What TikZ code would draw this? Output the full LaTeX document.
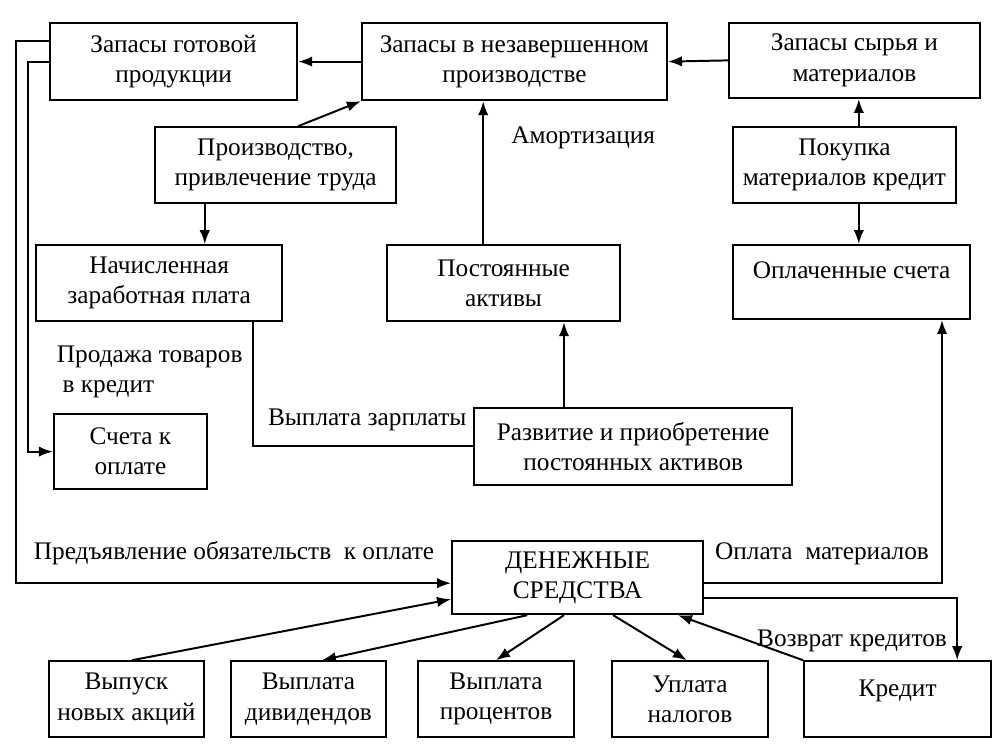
\documentclass[tikz,border=0pt]{standalone}
\usepackage{fontspec}
\setmainfont{Liberation Serif}
\usetikzlibrary{arrows.meta,positioning}

\begin{document}
\begin{tikzpicture}[
  box/.style={draw, line width=1.4pt, align=center, inner sep=2pt},
  arr/.style={line width=1.4pt, -{Latex[length=3.5mm,width=2.6mm]}},
  lnk/.style={line width=1.4pt},
  every node/.style={font=\fontsize{18}{21.5}\selectfont}]
\useasboundingbox (0,0) rectangle (25.075,-18.825);

% stocks
\node[box, minimum width=6.18cm, minimum height=1.93cm] (gp) at (4.34,-1.54) {Запасы готовой\\продукции};
\node[box, minimum width=7.63cm, minimum height=1.93cm] (wip) at (12.86,-1.54) {Запасы в незавершенном\\производстве};
\node[box, minimum width=6.28cm, minimum height=1.88cm] (raw) at (21.36,-1.51) {Запасы сырья и\\материалов};
\node[box, minimum width=6.03cm, minimum height=1.9cm] (prod) at (6.89,-4.13) {Производство,\\привлечение труда};
\node[box, minimum width=5.58cm, minimum height=1.9cm] (buy) at (21.11,-4.13) {Покупка\\материалов кредит};
\node[box, minimum width=6.15cm, minimum height=1.9cm] (wage) at (3.98,-7.08) {Начисленная\\заработная плата};
\node[box, minimum width=5.83cm, minimum height=1.9cm] (fixed) at (12.59,-7.08) {Постоянные\\активы};
\node[box, minimum width=5.93cm, minimum height=1.85cm, text depth=0.6cm] (paid) at (21.29,-7.05) {Оплаченные счета};
\node[box, minimum width=3.83cm, minimum height=1.88cm] (recv) at (3.26,-11.29) {Счета к\\оплате};
\node[box, minimum width=7.95cm, minimum height=1.93cm] (dev) at (15.83,-11.16) {Развитие и приобретение\\постоянных активов};
\node[box, minimum width=6.28cm, minimum height=1.83cm] (cash) at (14.44,-14.44) {ДЕНЕЖНЫЕ\\СРЕДСТВА};

% bottom row
\node[box, minimum width=3.88cm, minimum height=1.9cm] (shares) at (3.16,-17.48) {Выпуск\\новых акций};
\node[box, minimum width=3.88cm, minimum height=1.9cm] (div) at (7.71,-17.48) {Выплата\\дивидендов};
\node[box, minimum width=3.88cm, minimum height=1.9cm] (int) at (12.4,-17.48) {Выплата\\процентов};
\node[box, minimum width=3.88cm, minimum height=1.9cm] (tax) at (17.25,-17.48) {Уплата\\налогов};
\node[box, minimum width=4.68cm, minimum height=1.9cm, text depth=0.55cm] (credit) at (22.44,-17.48) {Кредит};

% labels
\node (amort) at (14.58,-3.45) {Амортизация};
\node[align=left, anchor=west] (sale) at (1.3,-9.3) {Продажа товаров\\\hspace*{4pt}в кредит};
\node (wagepay) at (9.18,-10.5) {Выплата зарплаты};
\node (claim) at (5.85,-13.83) {Предъявление обязательств~~к оплате};
\node (matpay) at (20.55,-13.85) {Оплата~~материалов};
\node (repay) at (21.3,-16.03) {Возврат кредитов};

% flows
\draw[arr] (wip.west) -- (gp.east);
\draw[arr] (raw.west) -- (wip.east);
\draw[arr] ([xshift=0.56cm]prod.north) -- (wip.south west);
\draw[arr] ([xshift=-1.77cm]prod.south) -- ([xshift=-1.77cm]prod.south |- wage.north);
\draw[arr] ([xshift=-0.51cm]fixed.north) -- ([xshift=-0.51cm]fixed.north |- wip.south);
\draw[arr] ([xshift=0.36cm]buy.north) -- ([xshift=0.36cm]buy.north |- raw.south);
\draw[arr] ([xshift=0.36cm]buy.south) -- ([xshift=0.36cm]buy.south |- paid.north);
\draw[arr] ([xshift=-1.73cm]dev.north) -- ([xshift=-1.73cm]dev.north |- fixed.south);
\draw[lnk] ([xshift=2.35cm]wage.south) |- (dev.west);
\draw[arr] ([yshift=0.51cm]gp.west) -- ++(-0.83,0) |- ([yshift=-0.14cm]cash.west);
\draw[arr] (gp.west) -- ++(-0.53,0) |- (recv.west);
\draw[arr] ([xshift=0.14cm]shares.north) -- ([yshift=-0.54cm]cash.west);
\draw[arr] ([xshift=-1.26cm]cash.south) -- ([xshift=0.34cm]div.north);
\draw[arr] ([xshift=-0.34cm]cash.south) -- (int.north);
\draw[arr] ([xshift=0.89cm]cash.south) -- ([xshift=-0.08cm]tax.north);
\draw[arr] (credit.north west) -- ([xshift=2.51cm]cash.south);
\draw[arr] ([yshift=-0.14cm]cash.east) -| ([xshift=2.26cm]paid.south);
\draw[arr] ([yshift=-0.51cm]cash.east) -| ([xshift=1.49cm]credit.north);
\end{tikzpicture}
\end{document}
